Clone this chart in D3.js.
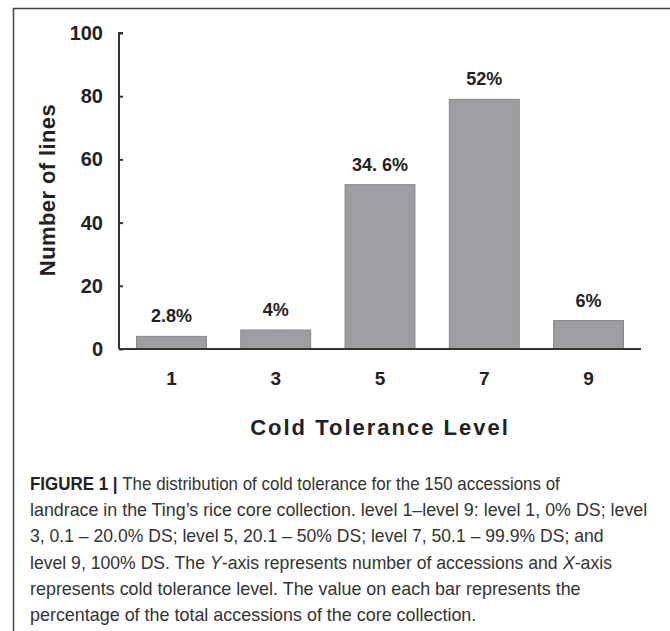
<!DOCTYPE html>
<html><head><meta charset="utf-8">
<script src="https://cdn.jsdelivr.net/npm/d3@7"></script>
<style>
html,body{margin:0;padding:0;background:#fff;}
svg{display:block;}
</style></head>
<body>
<svg id="c" width="670" height="631"></svg>
<script>
const categories = ["1","3","5","7","9"];
const counts = [4, 6, 52, 79, 9];
const pctLabels = ["2.8%","4%","34. 6%","52%","6%"];
const yTicks = [0,20,40,60,80,100];
const yTitle = "Number of lines";
const xTitle = "Cold Tolerance Level";
const captionLines = [
  "**FIGURE 1 | **The distribution of cold tolerance for the 150 accessions of",
  "landrace in the Ting’s rice core collection. level 1–level 9: level 1, 0% DS; level",
  "3, 0.1 – 20.0% DS; level 5, 20.1 – 50% DS; level 7, 50.1 – 99.9% DS; and",
  "level 9, 100% DS. The _Y_-axis represents number of accessions and _X_-axis",
  "represents cold tolerance level. The value on each bar represents the",
  "percentage of the total accessions of the core collection."
];
const captionWidths = [530, 618, 574, 582, 551, null];

const svg = d3.select("#c");
const bold = "'Liberation Sans', Arial, sans-serif";

// frame
svg.append("path").attr("d","M13.5,631 V8.5 H670").attr("fill","none")
  .attr("stroke","#444").attr("stroke-width",1.5);

const x0 = 119, x1 = 641, yBase = 349, yTop = 33;
const x = d3.scaleBand().domain(categories).range([x0,x1]).paddingInner(0.33).paddingOuter(0.168);
const y = d3.scaleLinear().domain([0,100]).range([yBase,yTop]);

// bars
svg.selectAll("rect.bar").data(counts).join("rect").attr("class","bar")
  .attr("x",(d,i)=>x(categories[i])).attr("width",x.bandwidth())
  .attr("y",d=>y(d)).attr("height",d=>y(0)-y(d))
  .attr("fill","#9e9da2").attr("stroke","#85848a").attr("stroke-width",1);

// y axis
const ya = d3.axisRight(y).tickValues(yTicks).tickSize(4).tickFormat("");
const gy = svg.append("g").attr("transform",`translate(${x0},0)`).call(ya);
gy.select(".domain").attr("d",`M4,${yTop}H0V${yBase}`).attr("stroke","#333").attr("stroke-width",2);
gy.selectAll(".tick line").attr("stroke","#333").attr("stroke-width",2);
svg.selectAll("text.yt").data(yTicks).join("text").attr("class","yt")
  .attr("x",103).attr("y",d=>y(d)+7).attr("text-anchor","end")
  .attr("font-family",bold).attr("font-weight","bold").attr("font-size",20).attr("fill","#222")
  .text(d=>d);

// x axis
const xa = d3.axisBottom(x).tickSize(0).tickFormat("");
const gx = svg.append("g").attr("transform",`translate(0,${yBase})`).call(xa);
gx.select(".domain").attr("d",`M${x0},0H${x1}`).attr("stroke","#333").attr("stroke-width",2);
svg.selectAll("text.xt").data(categories).join("text").attr("class","xt")
  .attr("x",d=>x(d)+x.bandwidth()/2).attr("y",385).attr("text-anchor","middle")
  .attr("font-family",bold).attr("font-weight","bold").attr("font-size",19).attr("fill","#222")
  .text(d=>d);

// value labels
svg.selectAll("text.vl").data(counts).join("text").attr("class","vl")
  .attr("x",(d,i)=>x(categories[i])+x.bandwidth()/2).attr("y",d=>y(d)-14)
  .attr("text-anchor","middle")
  .attr("font-family",bold).attr("font-weight","bold").attr("font-size",18).attr("fill","#222")
  .text((d,i)=>pctLabels[i]);

// titles
svg.append("text").attr("transform","translate(55,190) rotate(-90)").attr("text-anchor","middle")
  .attr("font-family",bold).attr("font-weight","bold").attr("font-size",22).attr("letter-spacing",0.4)
  .attr("fill","#222").text(yTitle);
svg.append("text").attr("x",380).attr("y",435).attr("text-anchor","middle")
  .attr("font-family",bold).attr("font-weight","bold").attr("font-size",22).attr("letter-spacing",2)
  .attr("fill","#222").text(xTitle);

// caption: each line is a group of separate text segments, scaled to the measured width
const capFont = "'Liberation Sans',Arial,sans-serif";
let lastScale = 1;
captionLines.forEach((ln,i)=>{
  const g = svg.append("g");
  const segs = [];
  const re = /(\*\*[^*]+\*\*|_[^_]+_)/g;
  let pos = 0, m;
  while ((m = re.exec(ln))) {
    if (m.index > pos) segs.push({t: ln.slice(pos, m.index), s: ""});
    const tok = m[0];
    if (tok.startsWith("**")) segs.push({t: tok.slice(2,-2), s: "b"});
    else segs.push({t: tok.slice(1,-1), s: "i"});
    pos = m.index + tok.length;
  }
  if (pos < ln.length) segs.push({t: ln.slice(pos), s: ""});
  let cx = 0;
  segs.forEach(sg=>{
    const t = g.append("text").attr("x",cx).attr("y",0)
      .attr("font-family",capFont).attr("font-size",18).attr("fill", sg.s==="b" ? "#222" : "#333")
      .style("white-space","pre").attr("xml:space","preserve").text(sg.t);
    if (sg.s==="b") t.attr("font-weight","bold");
    if (sg.s==="i") t.attr("font-style","italic");
    cx += t.node().getComputedTextLength();
  });
  const sc = captionWidths[i] ? captionWidths[i]/cx : lastScale;
  lastScale = sc;
  g.attr("transform",`translate(30,${490+i*26.2}) scale(${sc},1)`);
});
</script>
</body></html>
